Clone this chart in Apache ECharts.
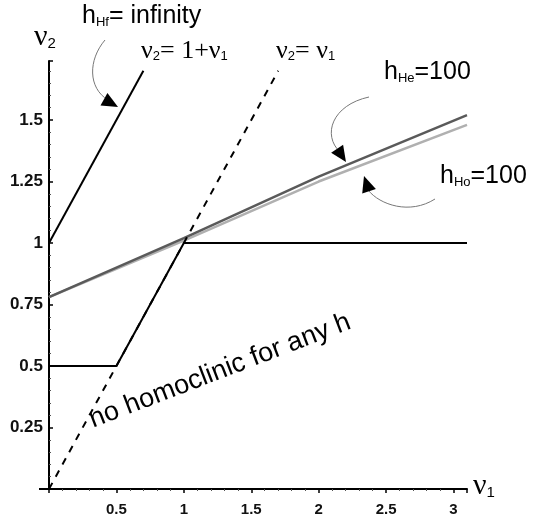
<!DOCTYPE html>
<html>
<head>
<meta charset="utf-8">
<script src="https://cdn.jsdelivr.net/npm/echarts@6/dist/echarts.min.js"></script>
<style>
  html, body { margin: 0; padding: 0; background: #fff; }
  #main { width: 541px; height: 520px; }
</style>
</head>
<body>
<div id="main"></div>
<script>
// data
var lineHf = [[0, 1], [0.7, 1.7]];            // nu2 = 1 + nu1
var diagonal = [[0, 0], [1.7, 1.7]];          // nu2 = nu1
var boundary = [[0, 0.5], [0.5, 0.5], [1, 1], [3.1, 1]];
var curveHe = [[0, 0.78], [1, 1.02], [2, 1.27], [3.1, 1.52]];
var curveHo = [[0, 0.78], [1, 1.01], [2, 1.25], [3.1, 1.48]];

var myChart = echarts.init(document.getElementById('main'));

var sans = 'Liberation Sans, Arial, sans-serif';
var serif = 'Liberation Serif, Times New Roman, serif';

function arrowHead(tip, from, size) {
  // filled triangle pointing from -> tip
  var dx = tip[0] - from[0], dy = tip[1] - from[1];
  var l = Math.sqrt(dx * dx + dy * dy);
  var ux = dx / l, uy = dy / l;
  var bx = tip[0] - ux * size, by = tip[1] - uy * size;
  var w = size * 0.45;
  return {
    type: 'polygon',
    shape: { points: [tip, [bx - uy * w, by + ux * w], [bx + uy * w, by - ux * w]] },
    style: { fill: '#000' }
  };
}

function curve(p1, c1, c2, p2) {
  return {
    type: 'bezierCurve',
    shape: { x1: p1[0], y1: p1[1], cpx1: c1[0], cpy1: c1[1], cpx2: c2[0], cpy2: c2[1], x2: p2[0], y2: p2[1] },
    style: { stroke: '#777', lineWidth: 1, fill: null }
  };
}

var rich = {
  big: { fontFamily: sans, fontSize: 25, color: '#000' },
  sub: { fontFamily: sans, fontSize: 13, color: '#000', padding: [12, 0, 0, 0] },
  nu: { fontFamily: serif, fontSize: 26, color: '#000' },
  nsub: { fontFamily: sans, fontSize: 13, color: '#000', padding: [11, 0, 0, 0] },
  axnu: { fontFamily: serif, fontSize: 30, color: '#000' },
  axsub: { fontFamily: sans, fontSize: 15, color: '#000', padding: [13, 0, 0, 0] }
};

function fmt(v) { return v === 0 ? '' : String(v); }

myChart.setOption({
  animation: false,
  grid: { left: 49, right: 74, top: 61, bottom: 31, containLabel: false },
  xAxis: {
    type: 'value', min: 0, max: 3.1, interval: 0.5,
    axisLine: { lineStyle: { color: '#000', width: 2 } },
    axisTick: { show: true, length: 4, lineStyle: { color: '#000', width: 1.5 } },
    minorTick: { show: true, splitNumber: 5, length: 2, lineStyle: { color: '#555' } },
    splitLine: { show: false },
    axisLabel: {
      margin: 13, color: '#111', fontSize: 15, fontFamily: sans, fontWeight: 'bold',
      showMaxLabel: false, formatter: fmt
    }
  },
  yAxis: {
    type: 'value', min: 0, max: 1.74, interval: 0.25,
    axisLine: { lineStyle: { color: '#000', width: 2 } },
    axisTick: { show: true, length: 4, inside: true, lineStyle: { color: '#000', width: 1.5 } },
    minorTick: { show: true, splitNumber: 5, length: 2, lineStyle: { color: '#555' } },
    splitLine: { show: false },
    axisLabel: {
      margin: 6, color: '#111', fontSize: 17, fontFamily: sans, fontWeight: 'bold',
      showMaxLabel: false, formatter: fmt
    }
  },
  series: [
    { type: 'line', data: curveHo, symbol: 'none', clip: false,
      lineStyle: { color: '#b0b0b0', width: 2.5 } },
    { type: 'line', data: curveHe, symbol: 'none', clip: false,
      lineStyle: { color: '#5a5a5a', width: 2.5 } },
    { type: 'line', data: diagonal, symbol: 'none',
      lineStyle: { color: '#000', width: 2, type: [7, 7] } },
    { type: 'line', data: lineHf, symbol: 'none',
      lineStyle: { color: '#000', width: 2 } },
    { type: 'line', data: boundary, symbol: 'none', clip: false,
      lineStyle: { color: '#000', width: 2 } }
  ],
  graphic: [
    { type: 'line', shape: { x1: 39, y1: 489, x2: 49, y2: 489 }, style: { stroke: '#000', lineWidth: 2 } },
    // axis names
    { type: 'text', left: 34, top: 22, style: { text: '{axnu|ν}{axsub|2}', rich: rich } },
    { type: 'text', left: 473, top: 471, style: { text: '{axnu|ν}{axsub|1}', rich: rich } },
    // labels
    { type: 'text', left: 82, top: 4, style: { text: '{big|h}{sub|Hf}{big|= infinity}', rich: rich } },
    { type: 'text', left: 141, top: 38, style: { text: '{nu|ν}{nsub|2}{nu|= 1+ν}{nsub|1}', rich: rich } },
    { type: 'text', left: 276, top: 38, style: { text: '{nu|ν}{nsub|2}{nu|= ν}{nsub|1}', rich: rich } },
    { type: 'text', left: 384, top: 60, style: { text: '{big|h}{sub|He}{big|=100}', rich: rich } },
    { type: 'text', left: 440, top: 164, style: { text: '{big|h}{sub|Ho}{big|=100}', rich: rich } },
    { type: 'text', x: 220, y: 371, rotation: 21 * Math.PI / 180,
      style: { text: 'no homoclinic for any h', font: '27px ' + sans, fill: '#000', align: 'center', verticalAlign: 'middle' } },
    // arrows
    curve([105, 40], [88, 60], [88, 88], [108, 100]),
    arrowHead([118, 107], [98, 96], 16),
    curve([369, 97], [332, 105], [322, 135], [340, 152]),
    arrowHead([346, 162], [334, 144], 16),
    curve([435, 199], [410, 215], [380, 205], [368, 190]),
    arrowHead([364, 176], [370, 194], 16)
  ]
});
</script>
</body>
</html>
